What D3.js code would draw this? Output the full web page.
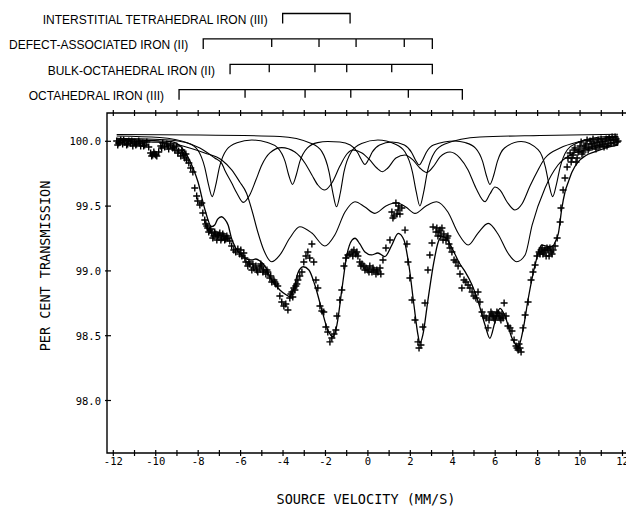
<!DOCTYPE html>
<html lang="en">
  <head>
    <meta charset="UTF-8" />
    <title>Mossbauer spectrum</title>
    <script src="https://d3js.org/d3.v7.min.js"></script>
    <style>
      body { margin: 0; background: #fff; }
      .curve { fill: none; stroke: #000; stroke-width: 1.1px; }
      .fit { fill: none; stroke: #000; stroke-width: 1.3px; }
      .cross { stroke: #000; stroke-width: 1.4px; }
      .axis-line { stroke: #000; stroke-width: 1.4px; fill: none; }
      .tick-label { font: 10.5px "DejaVu Sans Mono", monospace; fill: #000; }
      .title { font: 13.5px "DejaVu Sans Mono", monospace; fill: #000; }
      .site { font: 12px "Liberation Sans", "DejaVu Sans", sans-serif; fill: #000; }
    </style>
  </head>
  <body>
    <svg width="626" height="507"></svg>
    <script>
      // legend: sites and their line positions (mm/s)
      const sites = [
        "INTERSTITIAL TETRAHEDRAL IRON (III)",
        "DEFECT-ASSOCIATED IRON (II)",
        "BULK-OCTAHEDRAL IRON (II)",
        "OCTAHEDRAL IRON (III)",
      ];
      const siteLines = [
        [-1.47, 2.35],
        [-5.97, -2.09, 0.59, 2.69, 5.42, 7.01],
        [-4.45, -2.23, 0.36, 2.16, 4.71, 7.01],
        [-7.34, -3.6, -0.2, 2.39, 5.65, 8.71],
      ];

      const xTickLabels = [-12, -10, -8, -6, -4, -2, 0, 2, 4, 6, 8, 10, 12];
      const yTickLabels = [98.0, 98.5, 99.0, 99.5, 100.0];

      // fitted component curves [velocity, per cent transmission]
      const doublet = [
        [-11.84, 100.052], [-7.92, 100.049], [-4.15, 100.037], [-2.66, 99.983],
        [-2.17, 99.92], [-1.83, 99.763], [-1.65, 99.601], [-1.48, 99.495],
        [-1.3, 99.601], [-1.13, 99.763], [-0.78, 99.92], [-0.3, 99.983],
        [0.47, 100.01], [1.27, 99.979], [1.75, 99.917], [2.1, 99.763],
        [2.28, 99.609], [2.45, 99.501], [2.63, 99.609], [2.8, 99.763],
        [3.15, 99.917], [3.63, 99.979], [5.28, 100.033], [8.11, 100.045],
        [11.79, 100.054],
      ];
      const octFe3 = [
        [-11.84, 100.041], [-9.81, 100.029], [-8.52, 99.989], [-8.03, 99.935],
        [-7.69, 99.799], [-7.51, 99.663], [-7.34, 99.573], [-7.17, 99.663],
        [-7.0, 99.799], [-6.66, 99.935], [-6.17, 99.989], [-5.47, 100.01],
        [-4.73, 99.99], [-4.24, 99.948], [-3.9, 99.843], [-3.73, 99.738],
        [-3.55, 99.668], [-3.38, 99.738], [-3.21, 99.843], [-2.86, 99.948],
        [-2.37, 99.99], [-1.89, 99.998], [-1.32, 99.995], [-0.83, 99.972],
        [-0.49, 99.915], [-0.31, 99.859], [-0.14, 99.821], [0.03, 99.859],
        [0.2, 99.915], [0.55, 99.972], [1.13, 99.995], [1.72, 99.971],
        [2.06, 99.914], [2.24, 99.856], [2.41, 99.817], [2.58, 99.856],
        [2.75, 99.914], [3.09, 99.971], [4.1, 100.002], [4.58, 99.99],
        [5.07, 99.948], [5.41, 99.843], [5.58, 99.738], [5.75, 99.668],
        [5.93, 99.738], [6.1, 99.843], [6.44, 99.948], [7.22, 99.998],
        [8.02, 99.935], [8.37, 99.799], [8.54, 99.663], [8.71, 99.573],
        [8.88, 99.663], [9.06, 99.799], [9.4, 99.935], [9.89, 99.989],
        [10.94, 100.033], [11.79, 100.041],
      ];
      const defectFe2 = [
        [-11.84, 100.023], [-9.34, 100.01], [-7.92, 99.948], [-7.22, 99.871],
        [-6.89, 99.83], [-6.75, 99.779], [-6.42, 99.678], [-6.18, 99.601],
        [-5.88, 99.529], [-5.57, 99.586], [-5.28, 99.701], [-5.0, 99.817],
        [-4.62, 99.91], [-4.06, 99.951], [-3.44, 99.917], [-2.97, 99.833],
        [-2.64, 99.74], [-2.36, 99.663], [-2.03, 99.624], [-1.7, 99.678],
        [-1.32, 99.809], [-0.99, 99.902], [-0.71, 99.933], [-0.28, 99.91],
        [0.09, 99.856], [0.42, 99.794], [0.69, 99.765], [0.94, 99.794],
        [1.32, 99.871], [1.75, 99.894], [2.12, 99.856], [2.45, 99.794],
        [2.77, 99.759], [3.07, 99.802], [3.4, 99.879], [3.87, 99.917],
        [4.34, 99.871], [4.72, 99.779], [5.09, 99.64], [5.52, 99.534],
        [5.75, 99.593], [5.99, 99.647], [6.23, 99.624], [6.56, 99.532],
        [6.93, 99.47], [7.26, 99.516], [7.64, 99.655], [8.02, 99.779],
        [8.35, 99.871], [9.06, 99.948], [9.91, 99.995], [11.79, 100.035],
      ];
      const bulkFe2 = [
        [-11.84, 100.01], [-10.28, 99.995], [-9.25, 99.985], [-8.4, 99.948],
        [-7.69, 99.91], [-6.89, 99.856], [-6.42, 99.779], [-6.04, 99.686],
        [-5.72, 99.599], [-5.47, 99.47], [-5.19, 99.3], [-4.91, 99.161],
        [-4.54, 99.071], [-4.15, 99.123], [-3.68, 99.254], [-3.21, 99.341],
        [-2.64, 99.292], [-2.03, 99.192], [-1.56, 99.277], [-1.08, 99.454],
        [-0.61, 99.534], [-0.14, 99.493], [0.33, 99.444], [0.85, 99.501],
        [1.35, 99.526], [1.79, 99.493], [2.22, 99.444], [2.74, 99.501],
        [3.24, 99.534], [3.77, 99.454], [4.25, 99.292], [4.73, 99.2],
        [5.19, 99.292], [5.67, 99.367], [6.13, 99.285], [6.6, 99.138],
        [7.01, 99.071], [7.41, 99.123], [7.74, 99.354], [8.35, 99.64],
        [8.96, 99.817], [9.62, 99.902], [10.24, 99.933], [10.94, 99.956],
        [11.79, 99.977],
      ];
      const totalFit = [
        [-11.84, 100.018], [-10.75, 100.01], [-9.81, 100.002], [-9.25, 99.997],
        [-8.63, 99.92], [-8.24, 99.792], [-8.01, 99.688], [-7.69, 99.478],
        [-7.37, 99.341], [-7.22, 99.354], [-7.08, 99.4], [-6.9, 99.418],
        [-6.75, 99.4], [-6.59, 99.354], [-6.43, 99.252], [-6.23, 99.177],
        [-5.88, 99.11], [-5.49, 99.084], [-5.28, 99.092], [-5.09, 99.076],
        [-4.86, 99.038], [-4.62, 98.955], [-4.15, 98.853], [-3.84, 98.814],
        [-3.68, 98.801], [-3.49, 98.868], [-3.3, 98.984], [-3.05, 99.032],
        [-2.78, 99.007], [-2.5, 98.891], [-2.17, 98.698], [-1.89, 98.544],
        [-1.64, 98.492], [-1.46, 98.583], [-1.23, 98.853], [-0.99, 99.123],
        [-0.75, 99.238], [-0.61, 99.252], [-0.38, 99.208], [-0.14, 99.146],
        [0.17, 99.123], [0.47, 99.138], [0.8, 99.11], [1.13, 99.2],
        [1.43, 99.29], [1.7, 99.238], [1.93, 99.046], [2.17, 98.737],
        [2.36, 98.506], [2.45, 98.441], [2.59, 98.506], [2.83, 98.775],
        [3.11, 99.069], [3.3, 99.215], [3.48, 99.264], [3.68, 99.254],
        [3.96, 99.177], [4.34, 99.053], [4.58, 98.994], [4.91, 98.891],
        [5.2, 98.762], [5.52, 98.583], [5.75, 98.48], [5.99, 98.606],
        [6.23, 98.711], [6.46, 98.652], [6.79, 98.482], [7.09, 98.415],
        [7.31, 98.544], [7.56, 98.789], [7.88, 99.046], [8.19, 99.2],
        [8.4, 99.192], [8.67, 99.187], [8.87, 99.238], [8.98, 99.292],
        [9.14, 99.483], [9.29, 99.609], [9.45, 99.688], [9.62, 99.763],
        [9.92, 99.843], [10.24, 99.887], [10.71, 99.92], [11.18, 99.948],
        [11.8, 99.971],
      ];

      // measured spectrum [velocity, per cent transmission]
      const measured = [
        [-11.84, 100.002], [-11.75, 99.987], [-11.65, 100.01], [-11.56, 99.979],
        [-11.46, 99.995], [-11.37, 99.971], [-11.27, 100.002], [-11.18, 99.987],
        [-11.08, 99.964], [-10.99, 99.995], [-10.9, 99.979], [-10.8, 100.002],
        [-10.71, 99.964], [-10.61, 99.987], [-10.52, 99.971], [-10.42, 99.995],
        [-10.33, 99.956], [-10.24, 99.91], [-10.14, 99.894], [-10.05, 99.902],
        [-9.95, 99.887], [-9.86, 99.917], [-9.76, 99.964], [-9.67, 99.987],
        [-9.58, 99.956], [-9.48, 99.979], [-9.39, 99.941], [-9.29, 99.971],
        [-9.2, 99.948], [-9.1, 99.933], [-9.01, 99.964], [-8.92, 99.925],
        [-8.82, 99.887], [-8.73, 99.91], [-8.63, 99.871], [-8.54, 99.856],
        [-8.44, 99.833], [-8.35, 99.794], [-8.25, 99.763], [-8.16, 99.64],
        [-8.07, 99.578], [-8.02, 99.539], [-7.92, 99.508], [-7.83, 99.524],
        [-7.78, 99.447], [-7.69, 99.393], [-7.64, 99.362], [-7.55, 99.331],
        [-7.45, 99.315], [-7.36, 99.292], [-7.26, 99.269], [-7.17, 99.285],
        [-7.08, 99.269], [-6.98, 99.292], [-6.89, 99.254], [-6.79, 99.269],
        [-6.7, 99.246], [-6.6, 99.254], [-6.51, 99.231], [-6.42, 99.192],
        [-6.32, 99.161], [-6.23, 99.146], [-6.13, 99.169], [-6.04, 99.13],
        [-5.94, 99.115], [-5.85, 99.138], [-5.75, 99.069], [-5.66, 99.038],
        [-5.57, 99.053], [-5.47, 99.007], [-5.38, 99.022], [-5.28, 99.038],
        [-5.19, 98.992], [-5.09, 99.022], [-5.0, 99.038], [-4.91, 99.007],
        [-4.81, 98.976], [-4.72, 98.992], [-4.62, 98.945], [-4.53, 98.914],
        [-4.43, 98.93], [-4.34, 98.899], [-4.25, 98.884], [-4.15, 98.806],
        [-4.06, 98.76], [-3.96, 98.729], [-3.87, 98.745], [-3.77, 98.698],
        [-3.68, 98.791], [-3.58, 98.837], [-3.49, 98.868], [-3.4, 98.884],
        [-3.3, 98.93], [-3.21, 98.961], [-3.11, 98.992], [-3.02, 99.069],
        [-2.92, 99.115], [-2.83, 99.146], [-2.74, 99.1], [-2.64, 99.208],
        [-2.55, 99.069], [-2.45, 98.93], [-2.36, 98.868], [-2.26, 98.729],
        [-2.17, 98.691], [-2.08, 98.683], [-1.98, 98.567], [-1.89, 98.529],
        [-1.79, 98.452], [-1.7, 98.482], [-1.6, 98.513], [-1.51, 98.544],
        [-1.46, 98.652], [-1.32, 98.775], [-1.23, 98.853], [-1.13, 99.038],
        [-1.04, 99.1], [-0.94, 99.123], [-0.85, 99.13], [-0.75, 99.146],
        [-0.66, 99.161], [-0.57, 99.13], [-0.47, 99.115], [-0.38, 99.069],
        [-0.28, 99.053], [-0.19, 99.038], [-0.09, 99.022], [0.0, 99.007],
        [0.09, 99.038], [0.19, 98.992], [0.28, 99.007], [0.38, 98.976],
        [0.47, 98.992], [0.57, 99.022], [0.71, 99.084], [0.85, 99.177],
        [1.04, 99.238], [1.13, 99.454], [1.23, 99.424], [1.32, 99.524],
        [1.42, 99.47], [1.51, 99.439], [1.6, 99.485], [1.75, 99.315],
        [1.84, 99.208], [1.89, 99.069], [1.98, 98.945], [2.08, 98.775],
        [2.22, 98.621], [2.36, 98.452], [2.41, 98.405], [2.5, 98.428],
        [2.59, 98.567], [2.69, 98.752], [2.83, 99.007], [2.92, 99.123],
        [3.02, 99.215], [3.07, 99.339], [3.21, 99.3], [3.3, 99.269],
        [3.4, 99.315], [3.49, 99.331], [3.58, 99.285], [3.68, 99.238],
        [3.77, 99.269], [3.87, 99.177], [3.96, 99.146], [4.06, 99.084],
        [4.15, 99.069], [4.25, 99.038], [4.34, 98.976], [4.43, 98.868],
        [4.53, 98.93], [4.62, 98.914], [4.72, 98.891], [4.81, 98.868],
        [4.91, 98.837], [5.0, 98.806], [5.09, 98.791], [5.19, 98.837],
        [5.28, 98.76], [5.38, 98.683], [5.47, 98.652], [5.57, 98.637],
        [5.66, 98.56], [5.75, 98.652], [5.85, 98.667], [5.94, 98.637],
        [6.04, 98.652], [6.13, 98.675], [6.23, 98.637], [6.32, 98.667],
        [6.42, 98.752], [6.51, 98.652], [6.6, 98.575], [6.7, 98.56],
        [6.79, 98.536], [6.89, 98.467], [6.98, 98.42], [7.08, 98.39],
        [7.17, 98.405], [7.31, 98.56], [7.41, 98.66], [7.55, 98.76],
        [7.69, 98.93], [7.78, 98.992], [7.88, 99.046], [7.97, 99.115],
        [8.07, 99.146], [8.16, 99.161], [8.25, 99.13], [8.35, 99.161],
        [8.44, 99.177], [8.54, 99.115], [8.63, 99.146], [8.73, 99.161],
        [8.82, 99.192], [8.92, 99.254], [9.06, 99.377], [9.1, 99.485],
        [9.2, 99.624], [9.29, 99.717], [9.39, 99.802], [9.43, 99.871],
        [9.53, 99.91], [9.62, 99.871], [9.72, 99.933], [9.81, 99.84],
        [9.91, 99.917], [10.0, 99.964], [10.09, 99.902], [10.19, 99.948],
        [10.28, 99.979], [10.38, 99.933], [10.47, 100.002], [10.57, 99.956],
        [10.66, 99.987], [10.75, 99.941], [10.85, 100.01], [10.94, 99.964],
        [11.04, 99.995], [11.13, 99.956], [11.23, 100.018], [11.32, 99.979],
        [11.42, 100.01], [11.51, 100.033], [11.6, 99.987], [11.7, 100.018],
        [11.79, 100.002],
        [-11.79, 99.971], [-11.7, 99.995], [-11.51, 100.01], [-11.32, 99.979],
        [-11.13, 100.002], [-10.94, 99.971], [-10.75, 99.987], [-10.57, 99.964],
        [-10.19, 99.887], [-10.09, 99.917], [-10.0, 99.894], [-9.72, 99.948],
        [-9.43, 99.964], [-9.15, 99.956], [-8.96, 99.91], [-8.77, 99.933],
        [-8.68, 99.894], [-8.58, 99.902],
        [-7.59, 99.346], [-7.5, 99.3], [-7.41, 99.323], [-7.31, 99.254],
        [-7.22, 99.3], [-7.12, 99.238], [-7.03, 99.277], [-6.93, 99.238],
        [-6.84, 99.285], [-6.75, 99.238], [-6.65, 99.269],
        [-5.99, 99.161], [-5.8, 99.1], [-5.61, 99.069], [-5.42, 99.053],
        [-5.24, 99.007], [-5.05, 99.053], [-4.95, 98.992], [-4.76, 99.007],
        [-4.58, 98.961], [-4.39, 98.914],
        [-3.63, 98.822], [-3.54, 98.799], [-3.44, 98.853], [-3.35, 98.899],
        [-0.71, 99.115], [-0.52, 99.146], [-0.33, 99.038], [-0.14, 99.007],
        [0.05, 98.992], [0.24, 99.022], [0.42, 99.007], [0.61, 98.976],
        [1.18, 99.408], [1.37, 99.439], [1.46, 99.501],
        [3.25, 99.331], [3.35, 99.3], [3.44, 99.269], [3.54, 99.238],
        [3.73, 99.254], [3.82, 99.208],
        [5.71, 98.621], [5.8, 98.683], [5.9, 98.652], [5.99, 98.621],
        [6.08, 98.683], [6.18, 98.652], [6.27, 98.621], [6.37, 98.637],
        [7.03, 98.405], [7.12, 98.436], [7.22, 98.374],
        [8.11, 99.13], [8.21, 99.177], [8.3, 99.146], [8.4, 99.115],
        [8.49, 99.161], [8.58, 99.177], [8.68, 99.13],
        [9.58, 99.84], [9.67, 99.894], [9.76, 99.948], [9.86, 99.871],
        [9.95, 99.933], [10.05, 99.995], [10.14, 99.917], [10.24, 99.964],
        [10.33, 100.01], [10.42, 99.948], [10.52, 99.979], [10.61, 100.018],
        [10.71, 99.964], [10.8, 99.995], [10.9, 99.971], [10.99, 100.018],
        [11.08, 99.979], [11.18, 100.002], [11.27, 99.964], [11.37, 100.025],
        [11.46, 99.987], [11.56, 100.01], [11.65, 100.033], [11.75, 99.995],
      ];

      const svg = d3.select("svg");

      const plot = { left: 107, right: 626, top: 113, bottom: 453 };
      const x = d3.scaleLinear().domain([-12, 12]).range([113.3, 622.5]);
      const y = d3.scaleLinear().domain([98, 100]).range([400.5, 141.3]);
      // the site bars above the plot use their own (compressed) velocity scale
      const legendX = d3.scaleLinear().domain([-12, 12]).range([96.8, 520.4]);

      // frame: left, top and bottom lines (no right side)
      svg.append("path")
        .attr("class", "axis-line")
        .attr("d", `M${plot.right},${plot.top}H${plot.left}V${plot.bottom}H${plot.right}`);

      // velocity ticks on top and bottom lines
      const minor = x.ticks(24);
      [plot.top, plot.bottom].forEach((yy) => {
        svg.append("g")
          .selectAll("line")
          .data(minor)
          .enter()
          .append("line")
          .attr("x1", (d) => x(d))
          .attr("x2", (d) => x(d))
          .attr("y1", yy - 3)
          .attr("y2", yy + 3)
          .attr("stroke", "#000")
          .attr("stroke-width", 1.2);
      });

      svg.append("g")
        .selectAll("text")
        .data(xTickLabels)
        .enter()
        .append("text")
        .attr("class", "tick-label")
        .attr("x", (d) => x(d))
        .attr("y", 465)
        .attr("text-anchor", "middle")
        .text((d) => d);

      // transmission ticks
      svg.append("g")
        .selectAll("line")
        .data(yTickLabels)
        .enter()
        .append("line")
        .attr("x1", plot.left - 2)
        .attr("x2", plot.left + 4)
        .attr("y1", (d) => y(d))
        .attr("y2", (d) => y(d))
        .attr("stroke", "#000")
        .attr("stroke-width", 1.2);

      svg.append("g")
        .selectAll("text")
        .data(yTickLabels)
        .enter()
        .append("text")
        .attr("class", "tick-label")
        .attr("x", plot.left - 6)
        .attr("y", (d) => y(d) + 4)
        .attr("text-anchor", "end")
        .text((d) => d.toFixed(1));

      svg.append("text")
        .attr("class", "title")
        .attr("transform", "translate(50,266) rotate(-90)")
        .attr("text-anchor", "middle")
        .text("PER CENT TRANSMISSION");

      svg.append("text")
        .attr("class", "title")
        .attr("x", 366)
        .attr("y", 504)
        .attr("text-anchor", "middle")
        .text("SOURCE VELOCITY (MM/S)");

      // curves
      const line = d3.line()
        .x((d) => x(d[0]))
        .y((d) => y(d[1]))
        .curve(d3.curveMonotoneX);

      [doublet, octFe3, defectFe2, bulkFe2].forEach((c) => {
        svg.append("path").attr("class", "curve").attr("d", line(c));
      });
      svg.append("path").attr("class", "fit").attr("d", line(totalFit));

      // measured points as plus marks
      svg.append("g")
        .selectAll("path")
        .data(measured)
        .enter()
        .append("path")
        .attr("class", "cross")
        .attr("transform", (d) => `translate(${x(d[0])},${y(d[1])})`)
        .attr("d", "M-3.5,0H3.5M0,-3.5V3.5");

      // site bars
      const rows = svg.append("g")
        .selectAll("g")
        .data(sites)
        .enter()
        .append("g")
        .attr("transform", (d, i) => `translate(0,${13.5 + i * 25.4})`);

      rows.append("path")
        .attr("fill", "none")
        .attr("stroke", "#000")
        .attr("stroke-width", 1.3)
        .attr("d", (d, i) => {
          const p = siteLines[i].map(legendX);
          const first = p[0], last = p[p.length - 1];
          let s = `M${first},10V0H${last}V10`;
          p.slice(1, -1).forEach((v) => (s += `M${v},0V8`));
          return s;
        });

      rows.append("text")
        .attr("class", "site")
        .attr("x", (d, i) => legendX(siteLines[i][0]) - 15)
        .attr("y", 10.5)
        .attr("text-anchor", "end")
        .text((d) => d);
    </script>
  </body>
</html>
